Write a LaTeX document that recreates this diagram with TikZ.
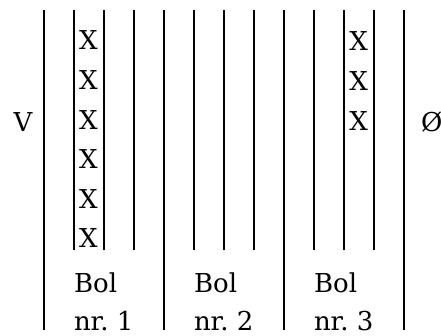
\documentclass[tikz,border=0pt]{standalone}
\usepackage{fontspec}
\setmainfont{DejaVu Serif}
\begin{document}
\begin{tikzpicture}[x=1pt,y=-1pt,line width=2pt,font=\fontsize{26}{30}\selectfont]
	\useasboundingbox (0,0) rectangle (441,336);
	\foreach \i in {0,4,8,12} \draw (43.5+30*\i,10)--(43.5+30*\i,330);
	\foreach \i in {1,2,3,5,6,7,9,10,11} \draw (43.5+30*\i,10)--(43.5+30*\i,250);
	\foreach \k in {0,...,5} \node[inner sep=0] (xa\k) at (88.5,40.5+39.6*\k) {X};
	\foreach \k in {0,1,2} \node[inner sep=0] (xc\k) at (358.5,41.5+39.6*\k) {X};
	\node[inner sep=0] (v) at (23,122) {V};
	\node[inner sep=0,anchor=west] (o) at (420,122) {Ø};
	\foreach \b in {1,2,3}{
	\node[inner sep=0,anchor=base west] (bol\b) at (73+120*\b-120,292) {Bol};
	\node[inner sep=0,anchor=base west] (nr\b) at (73+120*\b-120,330) {nr.~\b};
	}
\end{tikzpicture}
\end{document}
